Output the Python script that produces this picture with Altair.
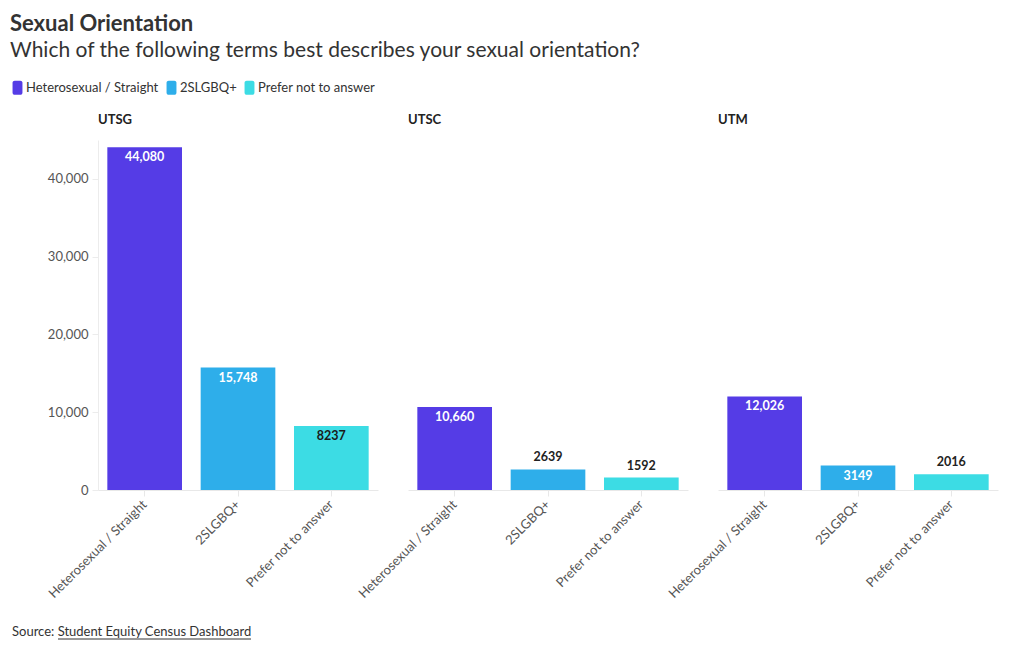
import altair as alt
import pandas as pd

campuses = ["UTSG", "UTSC", "UTM"]
categories = ["Heterosexual / Straight", "2SLGBQ+", "Prefer not to answer"]
colors = ["#553ce6", "#2eaeea", "#3cdce4"]
utsg = [44080, 15748, 8237]
utsc = [10660, 2639, 1592]
utm = [12026, 3149, 2016]

title_text = "Sexual Orientation"
subtitle_text = "Which of the following terms best describes your sexual orientation?"
source_text = "Source: Student Equity Census Dashboard"

FONT = "Lato"

rows = []
for camp, vals in zip(campuses, [utsg, utsc, utm]):
    for cat, v in zip(categories, vals):
        rows.append({"campus": camp, "category": cat, "value": v})
df = pd.DataFrame(rows)

base = alt.Chart(df).transform_calculate(
    label="datum.value >= 10000 ? format(datum.value, ',') : format(datum.value, 'd')"
).encode(
    x=alt.X(
        "category:N",
        sort=categories,
        title=None,
        scale=alt.Scale(paddingInner=0.2, paddingOuter=0.1),
        axis=alt.Axis(
            labelAngle=315,
            labelAlign="right",
            labelBaseline="middle",
            labelFontSize=13,
            labelColor="#555555",
            labelFont=FONT,
            labelPadding=6,
            domainColor="#e8e8e8",
            tickColor="#e8e8e8",
            tickSize=6,
        ),
    ),
    y=alt.Y(
        "value:Q",
        title=None,
        scale=alt.Scale(domain=[0, 45000], nice=False),
        axis=alt.Axis(
            values=[0, 10000, 20000, 30000, 40000],
            format=",d",
            labelFontSize=13,
            labelColor="#555555",
            labelFont=FONT,
            labelPadding=4,
            domainColor="#ececec",
            tickColor="#ececec",
            tickSize=6,
            grid=False,
            minExtent=87,
        ),
    ),
)

bars = base.mark_bar().encode(
    color=alt.Color(
        "category:N",
        sort=categories,
        scale=alt.Scale(domain=categories, range=colors),
        legend=alt.Legend(
            title=None,
            orient="none",
            legendX=-88,
            legendY=-60,
            direction="horizontal",
            labelFontSize=13,
            labelColor="#333333",
            labelFont=FONT,
            symbolType="M-0.7,-0.7A0.3,0.3 0 0 1 -0.4,-1H0.4A0.3,0.3 0 0 1 0.7,-0.7V0.7A0.3,0.3 0 0 1 0.4,1H-0.4A0.3,0.3 0 0 1 -0.7,0.7Z",
            symbolSize=200,
            symbolStrokeWidth=0,
            symbolOpacity=1,
            columnPadding=5,
            labelOffset=1,
        ),
    )
)

text_props = dict(fontWeight="bold", fontSize=12.5, font=FONT)
text_in_light = base.transform_filter(
    "datum.value >= 3000 && datum.category != 'Prefer not to answer'"
).mark_text(baseline="top", dy=4, color="white", **text_props).encode(text="label:N")
text_in_dark = base.transform_filter(
    "datum.value >= 3000 && datum.category == 'Prefer not to answer'"
).mark_text(baseline="top", dy=4, color="#1a1a1a", **text_props).encode(text="label:N")
text_out = base.transform_filter("datum.value < 3000").mark_text(
    baseline="bottom", dy=-5, color="#222222", **text_props
).encode(text="label:N")

panel = alt.layer(bars, text_in_light, text_in_dark, text_out).properties(width=280, height=350)

facet = panel.facet(
    column=alt.Column(
        "campus:N",
        sort=campuses,
        title=None,
        header=alt.Header(
            labelOrient="top",
            labelAnchor="start",
            labelAlign="left",
            labelFontWeight="bold",
            labelFontSize=13,
            labelFont=FONT,
            labelColor="#222222",
            labelPadding=13,
        ),
    ),
    spacing=30,
)

footer_df = pd.DataFrame({"t": [source_text]})
footer_text = alt.Chart(footer_df).mark_text(
    align="left", baseline="middle", fontSize=13, font=FONT, color="#333333"
).encode(x=alt.value(-86), y=alt.value(6), text="t:N")
underline = alt.Chart(footer_df).mark_rule(color="#333333", strokeWidth=1).encode(
    x=alt.value(-40), x2=alt.value(153), y=alt.value(13)
)
footer = alt.layer(footer_text, underline).properties(width=300, height=14)

chart = alt.vconcat(facet, footer, spacing=25).properties(
    title=alt.TitleParams(
        text=title_text,
        subtitle=subtitle_text,
        anchor="start",
        font=FONT,
        fontSize=22,
        fontWeight="bold",
        color="#333333",
        subtitleFont=FONT,
        subtitleFontSize=21,
        subtitleColor="#333333",
        subtitlePadding=4,
        offset=18,
    ),
    padding={"left": 10, "top": 13, "right": 10, "bottom": 10},
).configure_view(stroke=None)

chart.save("out.html", embed_options={"renderer": "svg", "actions": False})
